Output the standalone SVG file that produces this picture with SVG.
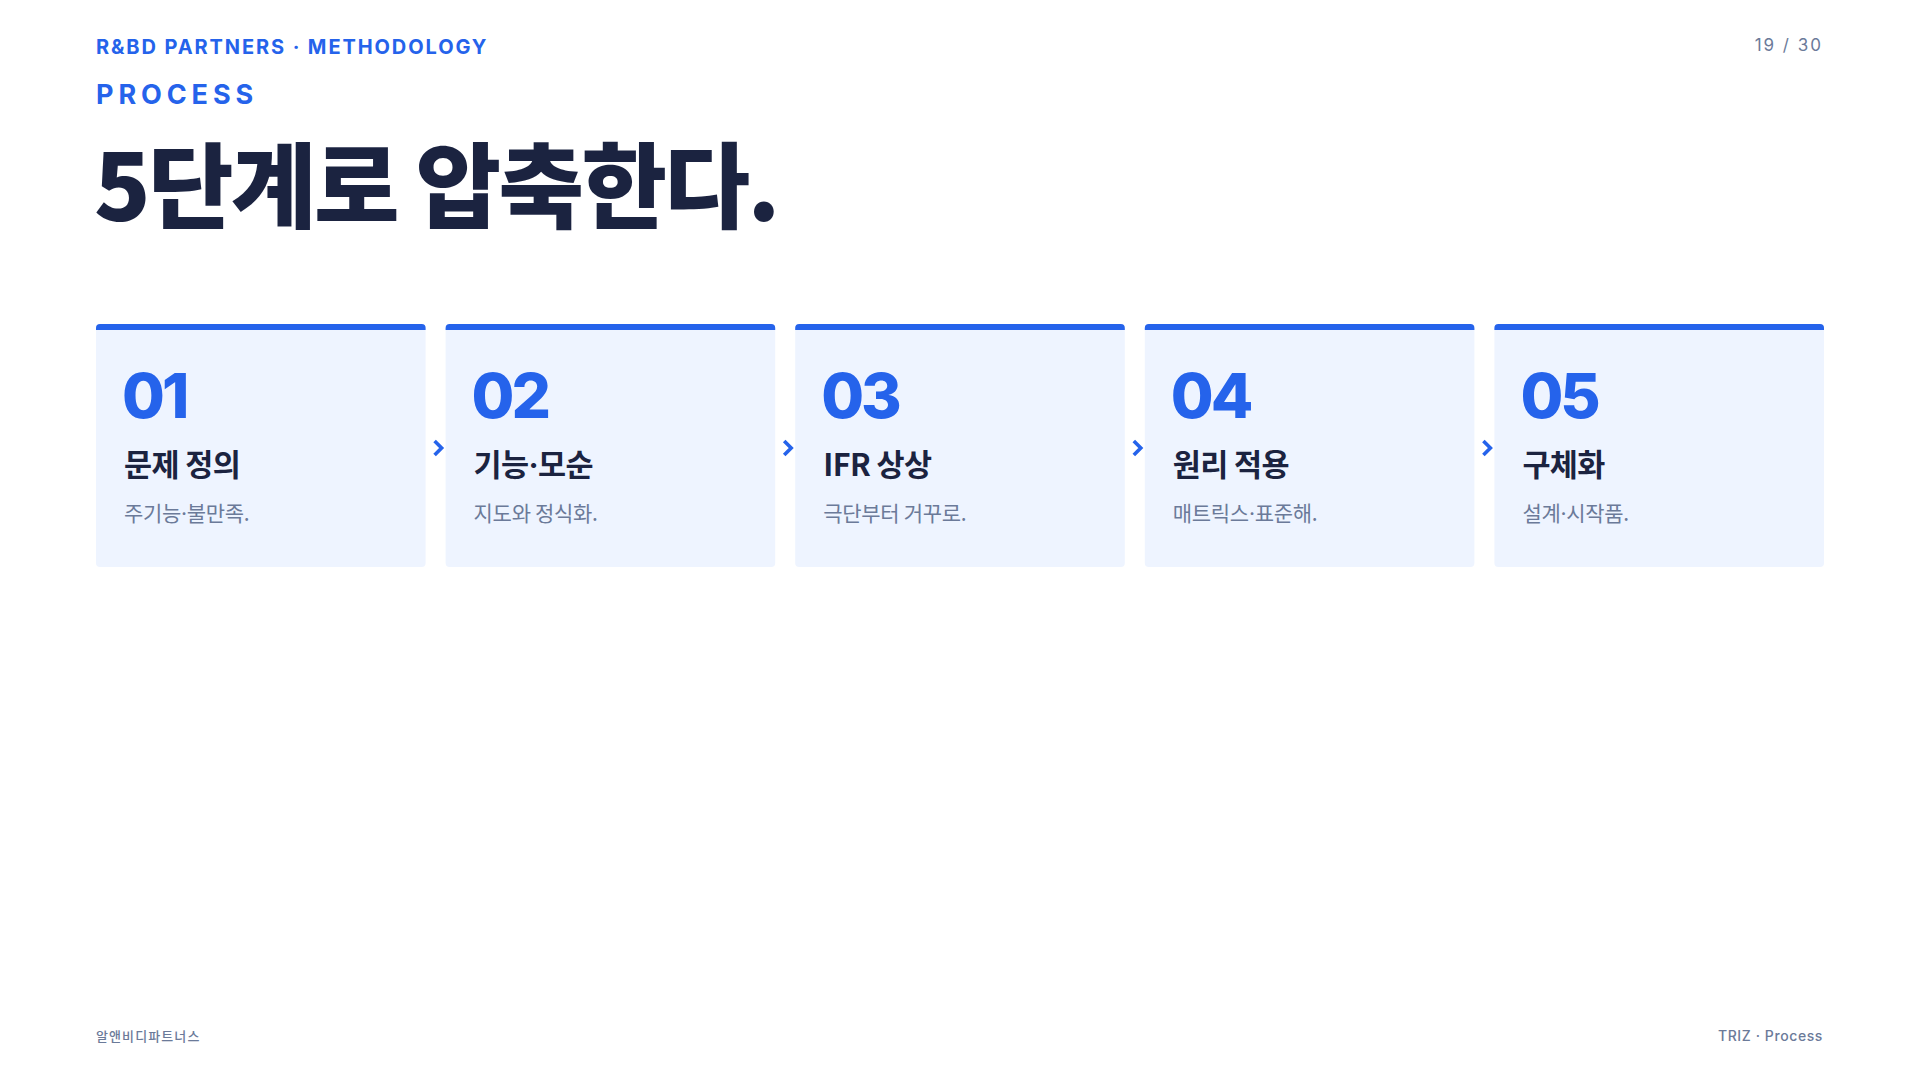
<svg xmlns="http://www.w3.org/2000/svg" width="1920" height="1080" viewBox="0 0 1920 1080">
<defs>
<style>
.lat{font-family:Inter,"Noto Sans","Liberation Sans",sans-serif}
.kr{font-family:"Noto Sans CJK KR","Noto Sans",sans-serif}
.dot{font-family:Inter,"Noto Sans",sans-serif}
.eyebrow{font-weight:700;fill:#2563EB}
.num{font-family:Inter,"Noto Sans",sans-serif;font-weight:800;font-size:62px;fill:#2563EB;letter-spacing:-3px}
.ctitle{font-family:"Noto Sans CJK KR",sans-serif;font-weight:700;font-size:30.5px;fill:#1B2340;letter-spacing:-0.6px}
.csub{font-family:"Noto Sans CJK KR",sans-serif;font-weight:400;font-size:21px;fill:#6B7A99;letter-spacing:-0.3px}
.card{fill:#EEF4FF}
.bar{fill:#2563EB}
.chev{fill:none;stroke:#2563EB;stroke-width:3.6;stroke-linecap:butt;stroke-linejoin:miter}
.meta{fill:#6B7A99}
</style>
</defs>
<rect width="1920" height="1080" fill="#FFFFFF"/>

<g id="header">
<text class="lat eyebrow" x="96" y="54" font-size="20" letter-spacing="1.9">R&amp;BD PARTNERS · METHODOLOGY</text>
<text class="lat eyebrow" x="96" y="104" font-size="27" letter-spacing="4.9">PROCESS</text>
<text class="kr" x="94" y="221" font-size="93" font-weight="900" fill="#1B2340" letter-spacing="-2.6">5단계로 압축한다.</text>
<text class="lat meta" x="1823" y="51" font-size="17" letter-spacing="2" text-anchor="end">19 / 30</text>
</g>

<g id="step1">
<rect class="card" x="96" y="324" width="329.6" height="243" rx="4"/>
<path class="bar" d="M96,330 V328 Q96,324 100,324 H421.6 Q425.6,324 425.6,328 V330 Z"/>
<text class="num" x="122" y="418">01</text>
<text class="ctitle" x="124" y="476">문제 정의</text>
<text class="csub" x="124" y="521">주기능<tspan class="dot">·</tspan>불만족.</text>
</g>

<g id="step2">
<rect class="card" x="445.6" y="324" width="329.6" height="243" rx="4"/>
<path class="bar" d="M445.6,330 V328 Q445.6,324 449.6,324 H771.2 Q775.2,324 775.2,328 V330 Z"/>
<text class="num" x="471.6" y="418">02</text>
<text class="ctitle" x="473.6" y="476">기능<tspan class="dot">·</tspan>모순</text>
<text class="csub" x="473.6" y="521">지도와 정식화.</text>
</g>

<g id="step3">
<rect class="card" x="795.2" y="324" width="329.6" height="243" rx="4"/>
<path class="bar" d="M795.2,330 V328 Q795.2,324 799.2,324 H1120.8 Q1124.8,324 1124.8,328 V330 Z"/>
<text class="num" x="821.2" y="418">03</text>
<text class="ctitle" x="823.2" y="476">IFR 상상</text>
<text class="csub" x="823.2" y="521">극단부터 거꾸로.</text>
</g>

<g id="step4">
<rect class="card" x="1144.8" y="324" width="329.6" height="243" rx="4"/>
<path class="bar" d="M1144.8,330 V328 Q1144.8,324 1148.8,324 H1470.4 Q1474.4,324 1474.4,328 V330 Z"/>
<text class="num" x="1170.8" y="418">04</text>
<text class="ctitle" x="1172.8" y="476">원리 적용</text>
<text class="csub" x="1172.8" y="521">매트릭스<tspan class="dot">·</tspan>표준해.</text>
</g>

<g id="step5">
<rect class="card" x="1494.4" y="324" width="329.6" height="243" rx="4"/>
<path class="bar" d="M1494.4,330 V328 Q1494.4,324 1498.4,324 H1820 Q1824,324 1824,328 V330 Z"/>
<text class="num" x="1520.4" y="418">05</text>
<text class="ctitle" x="1522.4" y="476">구체화</text>
<text class="csub" x="1522.4" y="521">설계<tspan class="dot">·</tspan>시작품.</text>
</g>

<g id="connectors">
<path class="chev" d="M434.6,441 L441.6,448 L434.6,455"/>
<path class="chev" d="M784.2,441 L791.2,448 L784.2,455"/>
<path class="chev" d="M1133.8,441 L1140.8,448 L1133.8,455"/>
<path class="chev" d="M1483.4,441 L1490.4,448 L1483.4,455"/>
</g>

<g id="footer">
<text class="kr meta" x="96" y="1041" font-size="13" font-weight="500" letter-spacing="1.1">알앤비디파트너스</text>
<text class="lat meta" x="1823" y="1041" font-size="14" font-weight="500" letter-spacing="0.6" text-anchor="end">TRIZ · Process</text>
</g>
</svg>
